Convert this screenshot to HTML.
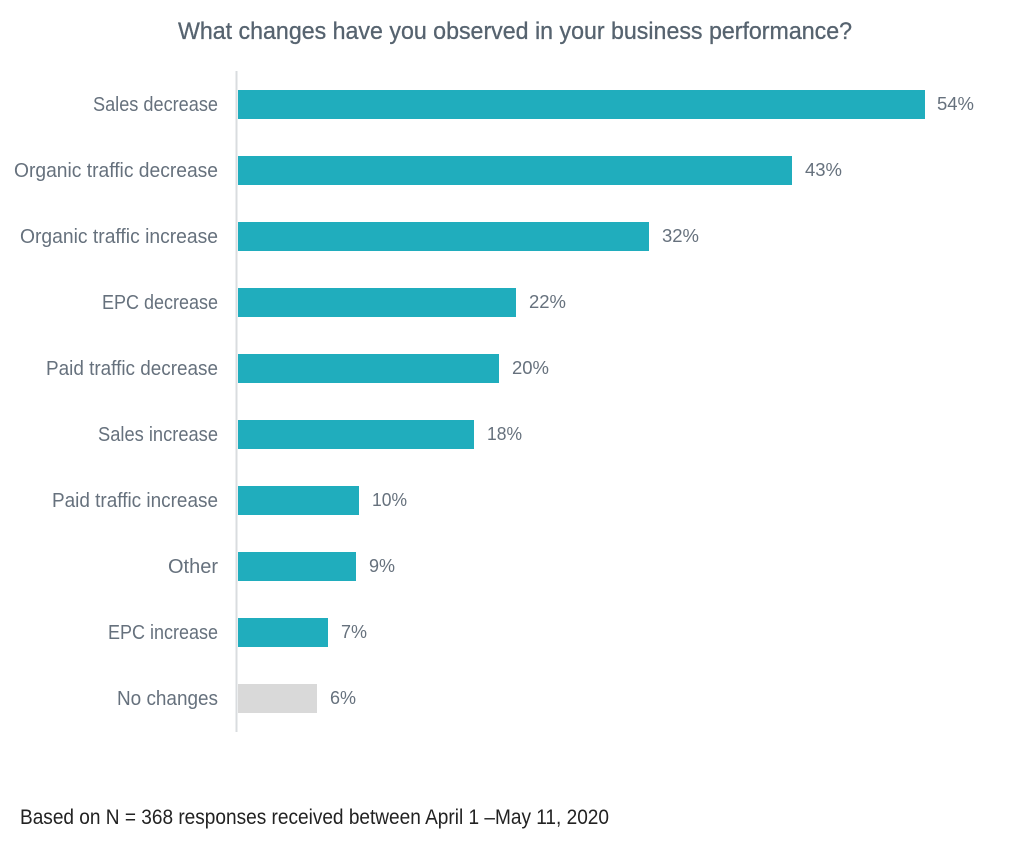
<!DOCTYPE html>
<html>
<head>
<meta charset="utf-8">
<style>
  html, body { margin: 0; padding: 0; background: #ffffff; }
  svg { display: block; }
  .lbl { font-family: "Liberation Sans", sans-serif; font-size: 20px; fill: #66717d; }
  .val { font-family: "Liberation Sans", sans-serif; font-size: 18px; fill: #66717d; }
</style>
</head>
<body>
<svg width="1030" height="842" viewBox="0 0 1030 842" xmlns="http://www.w3.org/2000/svg">
  <rect x="0" y="0" width="1030" height="842" fill="#ffffff"/>
  <text x="178" y="39" font-family="Liberation Sans, sans-serif" font-size="24" fill="#56636f" stroke="#56636f" stroke-width="0.3" textLength="674" lengthAdjust="spacingAndGlyphs">What changes have you observed in your business performance?</text>

  <!-- axis line -->
  <rect x="235.5" y="71" width="2" height="661" fill="#d9dcdf"/>

  <!-- bars -->
  <rect x="238" y="90" width="687" height="29" fill="#20adbd"/>
  <rect x="238" y="156" width="554" height="29" fill="#20adbd"/>
  <rect x="238" y="222" width="411" height="29" fill="#20adbd"/>
  <rect x="238" y="288" width="278" height="29" fill="#20adbd"/>
  <rect x="238" y="354" width="261" height="29" fill="#20adbd"/>
  <rect x="238" y="420" width="236" height="29" fill="#20adbd"/>
  <rect x="238" y="486" width="121" height="29" fill="#20adbd"/>
  <rect x="238" y="552" width="118" height="29" fill="#20adbd"/>
  <rect x="238" y="618" width="90" height="29" fill="#20adbd"/>
  <rect x="238" y="684" width="79" height="29" fill="#d9d9d9"/>

  <!-- category labels -->
  <text class="lbl" x="93" y="111" textLength="125" lengthAdjust="spacingAndGlyphs">Sales decrease</text>
  <text class="lbl" x="14" y="177" textLength="204" lengthAdjust="spacingAndGlyphs">Organic traffic decrease</text>
  <text class="lbl" x="20" y="243" textLength="198" lengthAdjust="spacingAndGlyphs">Organic traffic increase</text>
  <text class="lbl" x="102" y="309" textLength="116" lengthAdjust="spacingAndGlyphs">EPC decrease</text>
  <text class="lbl" x="46" y="375" textLength="172" lengthAdjust="spacingAndGlyphs">Paid traffic decrease</text>
  <text class="lbl" x="98" y="441" textLength="120" lengthAdjust="spacingAndGlyphs">Sales increase</text>
  <text class="lbl" x="52" y="507" textLength="166" lengthAdjust="spacingAndGlyphs">Paid traffic increase</text>
  <text class="lbl" x="168" y="573" textLength="50" lengthAdjust="spacingAndGlyphs">Other</text>
  <text class="lbl" x="108" y="639" textLength="110" lengthAdjust="spacingAndGlyphs">EPC increase</text>
  <text class="lbl" x="117" y="705" textLength="101" lengthAdjust="spacingAndGlyphs">No changes</text>

  <!-- value labels -->
  <text class="val" x="937" y="110" textLength="37" lengthAdjust="spacingAndGlyphs">54%</text>
  <text class="val" x="805" y="176" textLength="37" lengthAdjust="spacingAndGlyphs">43%</text>
  <text class="val" x="662" y="242" textLength="37" lengthAdjust="spacingAndGlyphs">32%</text>
  <text class="val" x="529" y="308" textLength="37" lengthAdjust="spacingAndGlyphs">22%</text>
  <text class="val" x="512" y="374" textLength="37" lengthAdjust="spacingAndGlyphs">20%</text>
  <text class="val" x="487" y="440" textLength="35" lengthAdjust="spacingAndGlyphs">18%</text>
  <text class="val" x="372" y="506" textLength="35" lengthAdjust="spacingAndGlyphs">10%</text>
  <text class="val" x="369" y="572" textLength="26" lengthAdjust="spacingAndGlyphs">9%</text>
  <text class="val" x="341" y="638" textLength="26" lengthAdjust="spacingAndGlyphs">7%</text>
  <text class="val" x="330" y="704" textLength="26" lengthAdjust="spacingAndGlyphs">6%</text>

  <!-- footer -->
  <text x="20" y="824" font-family="Liberation Sans, sans-serif" font-size="21" fill="#222222" textLength="589" lengthAdjust="spacingAndGlyphs">Based on N = 368 responses received between April 1 –May 11, 2020</text>
</svg>
</body>
</html>
